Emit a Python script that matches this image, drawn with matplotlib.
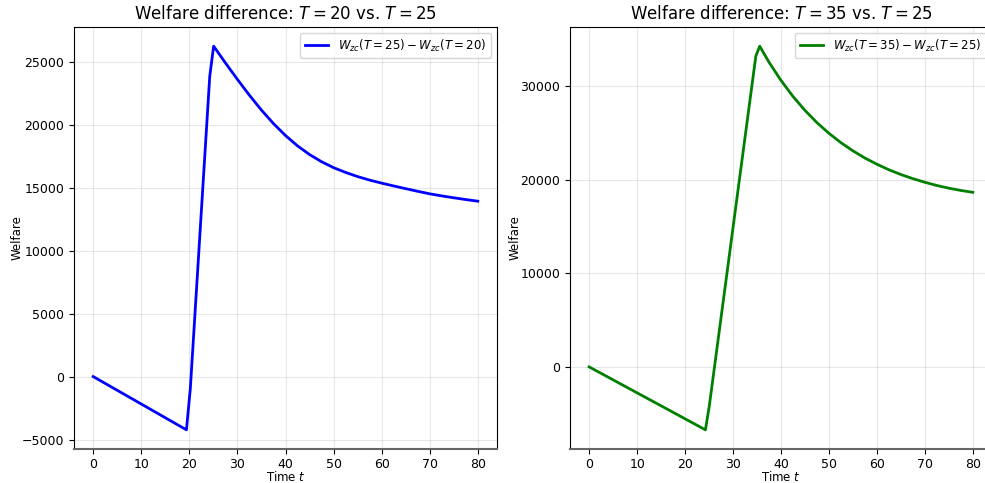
import numpy as np
import matplotlib.pyplot as plt

# time points (model grid) and welfare differences
t_left = [0.0, 19.39, 20.20, 24.24, 25.05, 27.5, 30.0, 32.5, 35.0, 37.5,
          40.0, 42.5, 45.0, 47.5, 50.0, 52.5, 55.0, 57.5, 60.0, 62.5,
          65.0, 67.5, 70.0, 72.5, 75.0, 77.5, 80.0]
w_left = [0, -4230, -955, 23860, 26250, 24920, 23610, 22350, 21170, 20100,
          19150, 18330, 17640, 17070, 16600, 16220, 15890, 15610, 15370, 15145,
          14930, 14720, 14520, 14355, 14205, 14065, 13935]

t_right = [0.0, 24.24, 25.05, 34.75, 35.56, 37.5, 40.0, 42.5, 45.0, 47.5,
           50.0, 52.5, 55.0, 57.5, 60.0, 62.5, 65.0, 67.5, 70.0, 72.5,
           75.0, 77.5, 80.0]
w_right = [0, -6720, -4160, 33190, 34260, 32550, 30600, 28890, 27400, 26090,
           24950, 23950, 23080, 22310, 21650, 21060, 20550, 20110, 19720, 19380,
           19090, 18850, 18650]

labels = [r'$W_{zc}(T=25) - W_{zc}(T=20)$', r'$W_{zc}(T=35) - W_{zc}(T=25)$']
titles = [r'Welfare difference: $T=20$ vs. $T=25$',
          r'Welfare difference: $T=35$ vs. $T=25$']

fig = plt.figure(figsize=(9.85, 4.83), dpi=100)
W, H = 985, 483
ax1 = fig.add_axes([74 / W, 34 / H, 423 / W, 422 / H])
ax2 = fig.add_axes([570 / W, 34 / H, 422 / W, 422 / H])

for ax, t, w, c, lab, ttl in [(ax1, t_left, w_left, 'blue', labels[0], titles[0]),
                              (ax2, t_right, w_right, 'green', labels[1], titles[1])]:
    ax.plot(t, w, color=c, lw=2, label=lab)
    ax.set_title(ttl, fontsize=12)
    ax.set_xlabel(r'Time $t$', fontsize=8.5, labelpad=-1)
    ax.set_ylabel('Welfare', fontsize=8.5, labelpad=-1)
    ax.grid(True, alpha=0.3)
    ax.set_xticks(np.arange(0, 81, 10))
    ax.tick_params(labelsize=9)
    ax.tick_params(axis='x', pad=3)
    ax.legend(loc='upper right', fontsize=8.5)
    ax.spines['bottom'].set_color('#666666')
    ax.spines['bottom'].set_linewidth(1.5)

fig.savefig('out.png', dpi=100)
